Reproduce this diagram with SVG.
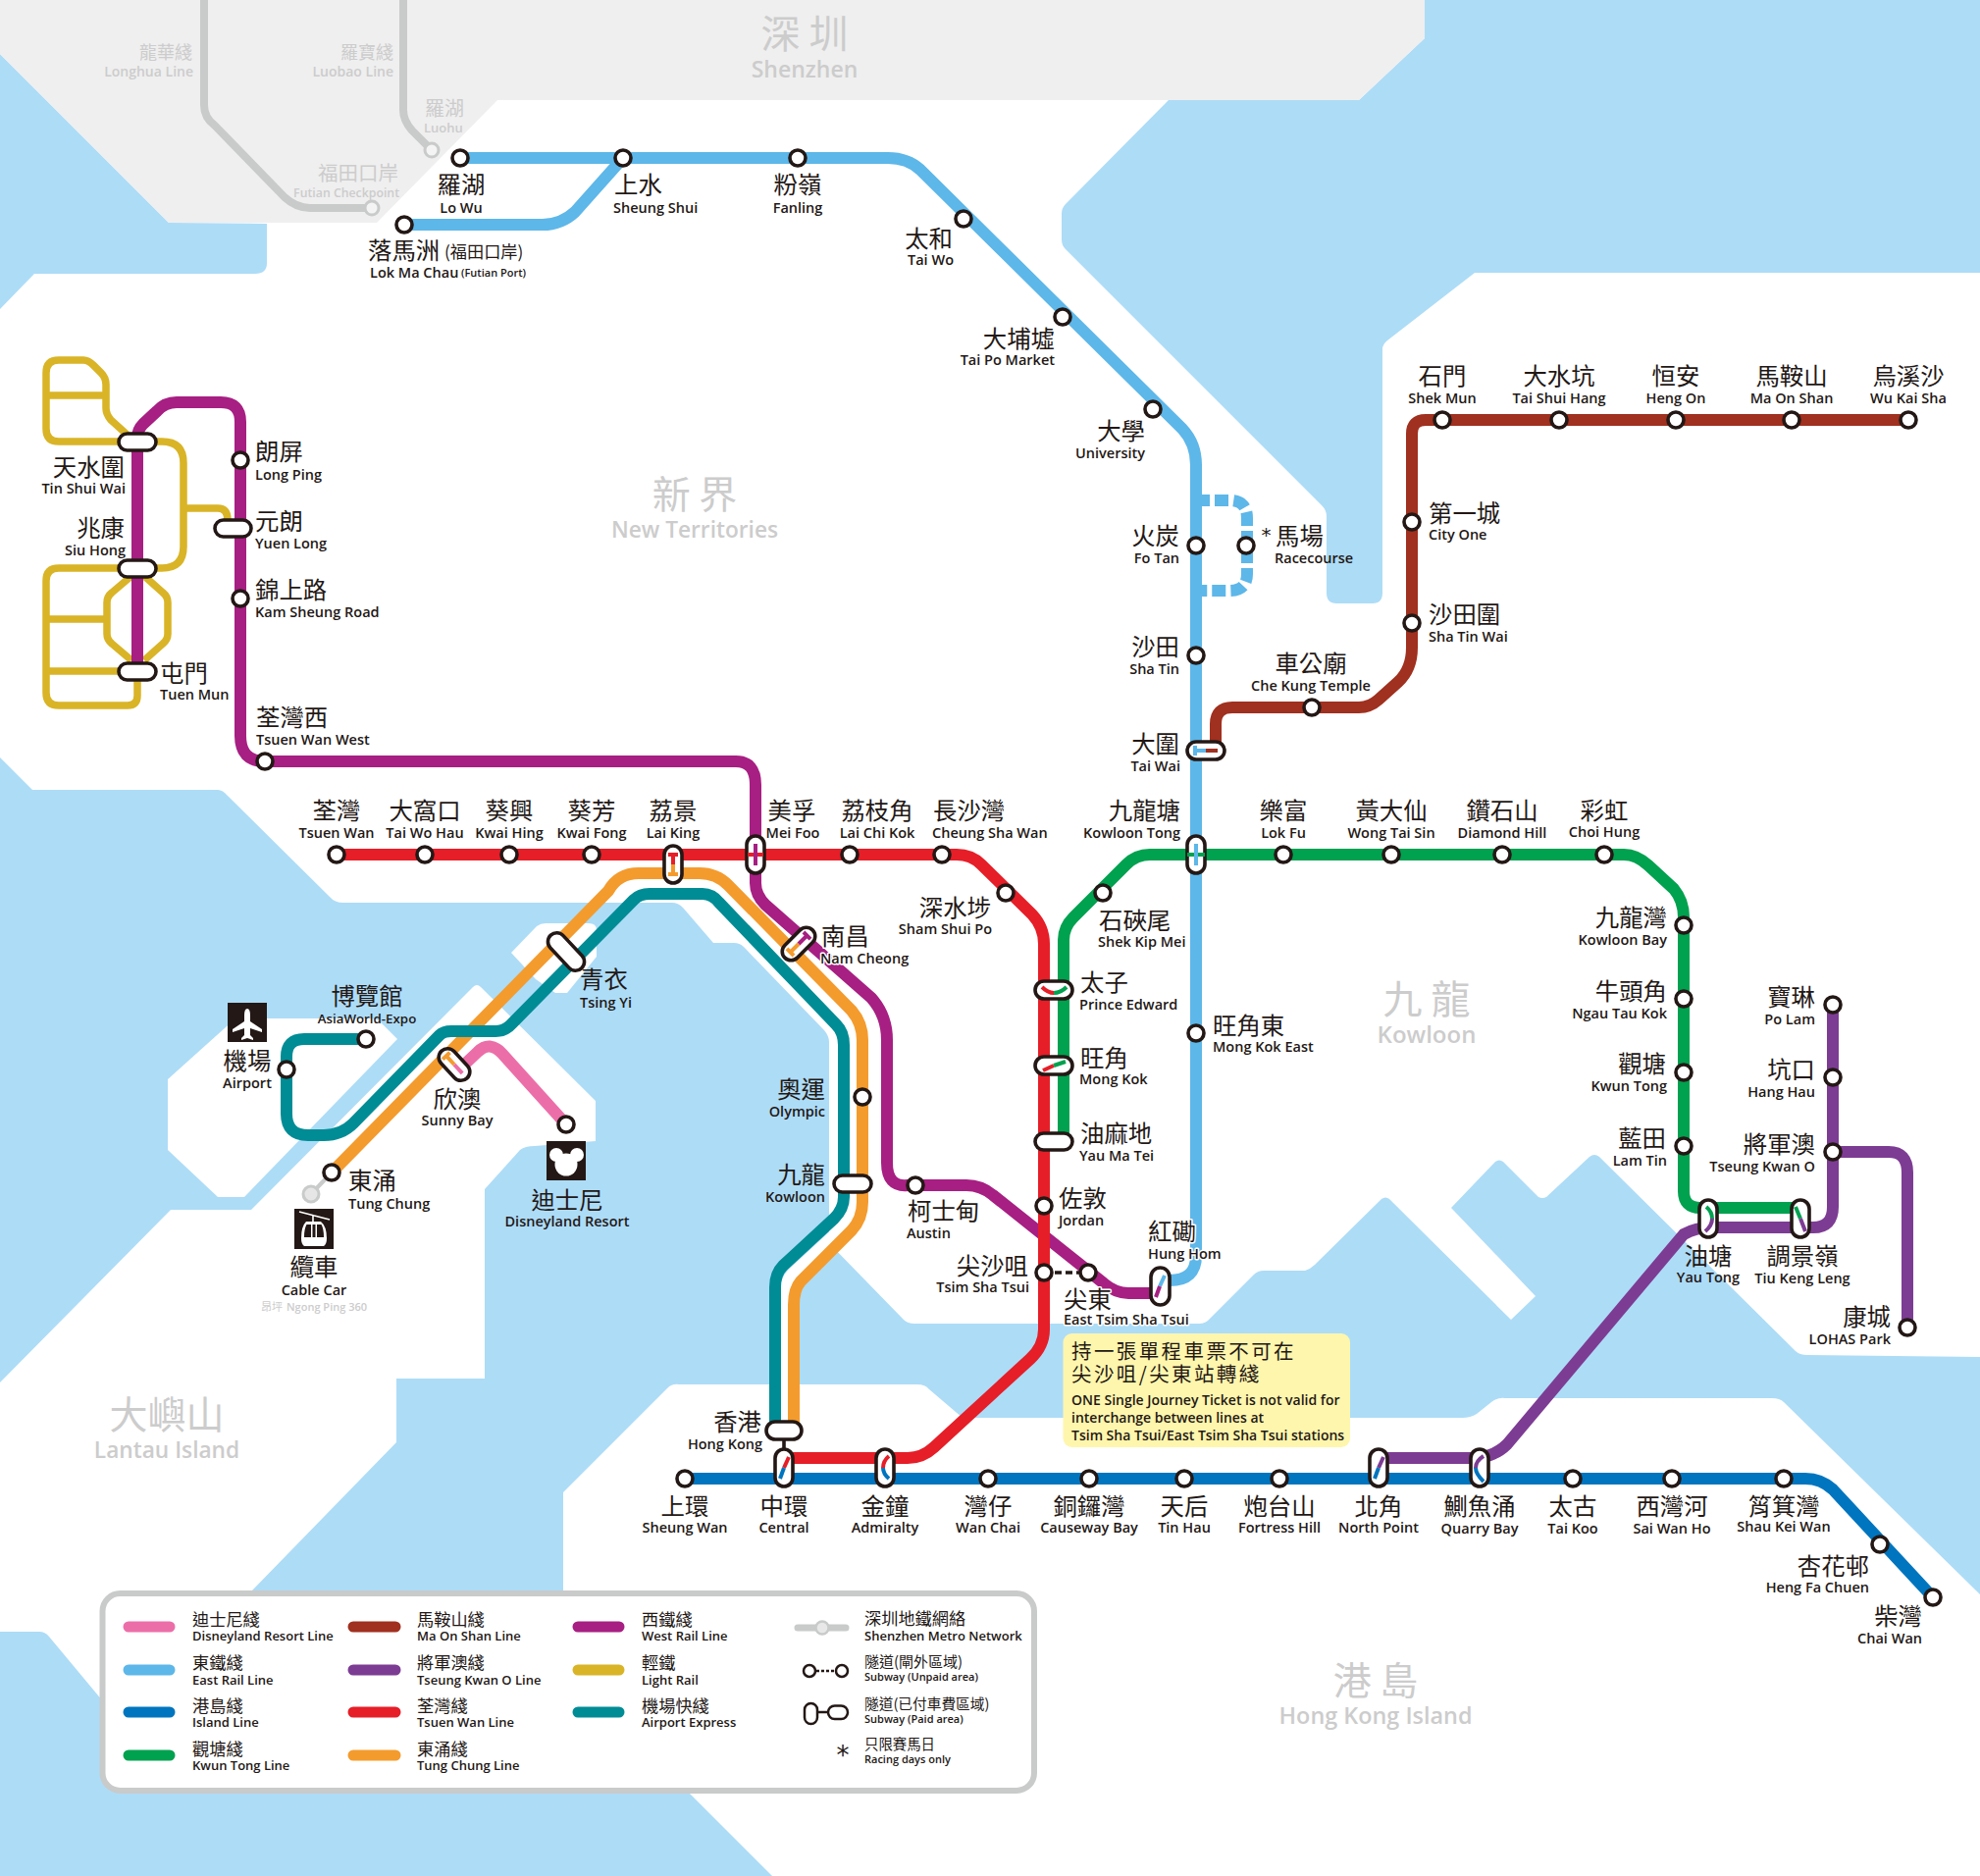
<svg xmlns="http://www.w3.org/2000/svg" width="2018" height="1912" viewBox="0 0 2018 1912">
<style>
text{font-family:"Open Sans","Noto Sans","Noto Sans CJK TC",sans-serif;fill:#231815}
.c{font-family:"Noto Sans CJK TC","Noto Sans CJK SC",sans-serif;font-size:24.4px;transform:translateY(.8px)}
.e{font-size:14.5px;font-weight:600}
.m{text-anchor:middle}.r{text-anchor:end}
.l{fill:none;stroke-width:12;stroke-linecap:butt;stroke-linejoin:round}
.s{fill:#fff;stroke:#231815;stroke-width:3.6}
.p{fill:#fff;stroke:#231815;stroke-width:3.6}
.i{fill:none;stroke-width:4}
.sea{fill:#ADDCF7}.land{fill:#fff}
.gc{font-family:"Noto Sans CJK TC",sans-serif;fill:#CCCCCC}
.ge{fill:#CCCCCC;font-weight:600}
.h{paint-order:stroke;stroke:#fff;stroke-width:3px;stroke-linejoin:round}
.k{font-family:"Noto Sans CJK TC",sans-serif;font-size:17.2px}
.f{font-size:13px;font-weight:600}
.a{font-family:"DejaVu Sans",sans-serif;text-anchor:middle}
.sw{stroke-width:11;stroke-linecap:round;fill:none}
.ew{stroke:#5DB7E9}.tw{stroke:#E61E28}.kt{stroke:#00A14F}.is{stroke:#0075BF}.tc{stroke:#F49B2D}.ae{stroke:#008C95}.wr{stroke:#A71F82}.ma{stroke:#A0301F}.tk{stroke:#7D3C93}.dr{stroke:#EC6EA9}.lr{stroke:#D9B426}
</style>
<rect width="2018" height="1912" fill="#fff"/>
<g id="geography">
<path class="sea" d="M0,55L172,227L272,228V268Q272,279 260,279H35L0,315Z"/>
<path class="sea" d="M1191,102L1086,208Q1082,212 1082,218V244Q1082,250 1086,254L1347,515Q1352,520 1352,526V604Q1352,615 1362,615H1399Q1409,615 1409,604V356Q1409,351 1414,347L1503,278H2018V0H1452V39L1385,102Z"/>
<path class="sea" d="M0,772L33,805H222Q227,805 232,811L336,914Q341,920 350,920H685Q691,920 696,925L727,961H748Q754,961 758,965L840,1050Q845,1056 845,1062V1267L921,1345Q925,1349 932,1349H1222Q1229,1349 1233,1344L1278,1299Q1282,1295 1288,1295H1330Q1336,1293 1340,1289L1408,1222Q1412,1219 1416,1222L1540,1345L1565,1321L1479,1231L1524,1184Q1528,1181 1532,1184L1568,1220Q1572,1222 1576,1220L1620,1179Q1625,1175 1630,1179L1830,1377Q1834,1381 1842,1381L2018,1383V1625L1818,1429Q1814,1425 1806,1425H1534Q1526,1424 1520,1429L1505,1441Q1499,1445 1490,1445H981L947,1416Q943,1411 935,1411H692Q685,1410 680,1415L574,1521V1640L702,1827L787,1912H0V1663H40Q46,1663 50,1668L110,1740L256,1622L404,1470V1405H494V1212L530,1172Q535,1168 545,1168L607,1163V1122L490,1006Q486,1002 482,1006L256,1233H174L0,1409Z"/>
<path class="land" d="M405,1059L388,1042Q384,1038 378,1038H240L171,1100V1172L222,1220H249Z"/>
<path class="land" d="M521,971L547,944Q551,941 556,941H600Q608,941 608,948V975L578,1012H566L546,998Z"/>
<path d="M0,0H1452V39L1385,102H507L384,227H172L0,55Z" fill="#EFEFEF"/>
<path d="M208,0V107Q208,120 219,128L290,201Q302,212 316,212H379" fill="none" stroke="#C9CACA" stroke-width="8"/>
<path d="M411,0V112Q411,123 420,133L440,153" fill="none" stroke="#C9CACA" stroke-width="8"/>
<circle cx="440" cy="153" r="7" fill="#f4f4f4" stroke="#C9CACA" stroke-width="3"/>
<circle cx="379" cy="212" r="7" fill="#f4f4f4" stroke="#C9CACA" stroke-width="3"/>
<text class="gc r" x="196" y="60" font-size="18">龍華綫</text><text class="ge r" x="197" y="78" font-size="14">Longhua Line</text>
<text class="gc r" x="401" y="60" font-size="18">羅寶綫</text><text class="ge r" x="401" y="78" font-size="14">Luobao Line</text>
<text class="gc" x="433" y="118" font-size="20">羅湖</text><text class="ge" x="432" y="135" font-size="13">Luohu</text>
<text class="gc r" x="406" y="184" font-size="20.5">福田口岸</text><text class="ge r" x="407" y="201" font-size="12.3">Futian Checkpoint</text>
<text class="gc m" x="820" y="49" font-size="40">深 圳</text><text class="ge m" x="820" y="79" font-size="23">Shenzhen</text>
<text class="gc m" x="708" y="518" font-size="39">新 界</text><text class="ge m" x="708" y="548" font-size="22.7">New Territories</text>
<text class="gc m" x="1454" y="1033" font-size="40">九 龍</text><text class="ge m" x="1454" y="1063" font-size="24">Kowloon</text>
<text class="gc m" x="170" y="1456" font-size="39">大嶼山</text><text class="ge m" x="170" y="1486" font-size="22.7">Lantau Island</text>
<text class="gc m" x="1402" y="1727" font-size="39">港 島</text><text class="ge m" x="1402" y="1757" font-size="23.4">Hong Kong Island</text>
</g>
<g id="connectors">
<g class="l lr" style="stroke-width:7.5">
<path d="M140,450H60Q47,450 47,437V380Q47,367 60,367H85Q90,367 95,372L103,380Q108,385 108,392V416Q108,422 113,428L134,447"/>
<path d="M47,403H108"/>
<path d="M140,450H165Q187,450 187,472V557Q187,579 165,579H140"/>
<path d="M187,518H222Q232,518 232,530V538"/>
<path d="M140,579H60Q47,579 47,592V706Q47,719 60,719H130Q140,719 140,709V684"/>
<path d="M47,631H108M47,684H140"/>
<path d="M134,587L114,604Q109,608 109,614V646Q109,652 114,656L134,673"/>
<path d="M147,587L166,604Q171,608 171,614V646Q171,652 166,656L147,673"/>
</g>
<path class="l wr" d="M140,684V446Q140,438 146,432L160,419Q168,410 180,410H225Q245,410 245,430V750Q245,776 270,776H750Q770,776 770,800V900Q770,912 780,922L888,1017Q904,1035 904,1060V1185Q904,1210 925,1208H985Q1000,1208 1012,1218L1125,1308Q1137,1318 1150,1318H1182"/>
<path class="l dr" d="M470,1088L487,1072Q499,1060 512,1074L577,1146"/>
<path class="l" stroke="#fff" d="M655,900H716Q726,900 735,910L860,1038Q870,1050 870,1065V1225Q870,1240 860,1250L808,1298Q800,1306 800,1320V1458"/>
<path class="l tc" d="M338,1195L620,908Q630,890 651,890H713Q730,890 742,902L868,1030Q879,1043 879,1060V1225Q879,1242 868,1254L816,1306Q809,1314 809,1330V1458"/>
<path class="l ae" d="M373,1059H310Q292,1059 292,1077V1135Q292,1157 314,1157H330Q348,1157 360,1145L448,1055Q452,1051 460,1051H505Q515,1051 522,1043L646,917Q652,911 662,911H716Q726,911 733,920L852,1044Q860,1052 860,1065V1220Q860,1232 850,1242L798,1290Q790,1298 790,1312V1458"/>
<path class="l ew" d="M469,161H905Q925,161 938,173L1205,437Q1219,452 1219,474V1280Q1219,1305 1192,1305H1182"/>
<path class="l ew" d="M412,229H553Q572,229 586,216L635,161"/>
<path class="l ew" d="M1219,510H1253Q1271,510 1271,528V585Q1271,602 1253,602H1219" stroke-dasharray="14 5"/>
<path class="l ma" d="M1239,765V738Q1239,721 1256,721H1385Q1396,721 1405,713L1425,695Q1439,682 1439,660V442Q1439,428 1453,428H1945"/>
<path class="l kt" d="M1084,1164V958Q1084,945 1094,935L1148,881Q1158,871 1172,871H1655Q1668,871 1680,882L1706,906Q1716,918 1716,935V1214Q1716,1231 1733,1231H1835"/>
<path class="l tk" d="M1868,1024V1230Q1868,1251 1848,1251H1745Q1728,1251 1716,1258L1536,1472Q1522,1486 1500,1486H1405"/>
<path class="l tk" d="M1868,1174H1925Q1944,1174 1944,1195V1353"/>
<path class="l is" d="M698,1507H1840Q1856,1507 1868,1518L1970,1628"/>
<path class="l tw" d="M343,871H975Q990,871 1000,881L1052,932Q1064,945 1064,962V1355Q1064,1372 1050,1385L952,1475Q940,1486 925,1486H799"/>
<path d="M338,1195L317,1217" stroke="#C9CACA" stroke-width="4"/>
<path d="M799,1467V1480" stroke="#231815" stroke-width="3.6"/>
<path d="M1064,1297H1109" stroke="#231815" stroke-width="3.6" stroke-dasharray="7 4"/>
</g>
<g id="nodes">
<g id="lo-wu"><circle class="s" cx="469" cy="161" r="8"/><text class="c m" x="470" y="196">羅湖</text><text class="e m" x="470" y="217">Lo Wu</text></g>
<g id="lok-ma-chau"><circle class="s" cx="412" cy="229" r="8"/><text class="c" x="375" y="263">落馬洲</text><text class="k" x="453" y="263">(福田口岸)</text><text class="e" x="377" y="283">Lok Ma Chau</text><text class="f" x="470" y="282" style="font-size:11px">(Futian Port)</text></g>
<g id="sheung-shui"><circle class="s" cx="635" cy="161" r="8"/><text class="c" x="626" y="196">上水</text><text class="e" x="625" y="217">Sheung Shui</text></g>
<g id="fanling"><circle class="s" cx="813" cy="161" r="8"/><text class="c m" x="813" y="196">粉嶺</text><text class="e m" x="813" y="217">Fanling</text></g>
<g id="tai-wo"><circle class="s" cx="982" cy="223" r="8"/><text class="c r" x="971" y="251">太和</text><text class="e r" x="972" y="270">Tai Wo</text></g>
<g id="tai-po-market"><circle class="s" cx="1083" cy="323" r="8"/><text class="c r" x="1075" y="353">大埔墟</text><text class="e r" x="1075" y="372">Tai Po Market</text></g>
<g id="university"><circle class="s" cx="1175" cy="417" r="8"/><text class="c r" x="1167" y="447">大學</text><text class="e r" x="1167" y="467">University</text></g>
<g id="fo-tan"><circle class="s" cx="1219" cy="556" r="8"/><text class="c r" x="1202" y="554">火炭</text><text class="e r" x="1202" y="574">Fo Tan</text></g>
<g id="racecourse"><circle class="s" cx="1270" cy="556" r="8"/><text class="a" x="1290.6" y="552" font-size="20">*</text><text class="c" x="1300" y="554">馬場</text><text class="e" x="1299" y="574">Racecourse</text></g>
<g id="sha-tin"><circle class="s" cx="1219" cy="668" r="8"/><text class="c r" x="1202" y="667">沙田</text><text class="e r" x="1202" y="687">Sha Tin</text></g>
<g id="tai-wai"><rect class="p" x="1210" y="756" width="38" height="18" rx="9"/><path class="i ew" d="M1218,760V770M1218,765H1229"/><path class="i ma" d="M1229,765H1241"/><text class="c r" x="1202" y="766">大圍</text><text class="e r" x="1203" y="786">Tai Wai</text></g>
<g id="che-kung-temple"><circle class="s" cx="1337" cy="721" r="8"/><text class="c m" x="1336" y="684">車公廟</text><text class="e m" x="1336" y="704">Che Kung Temple</text></g>
<g id="sha-tin-wai"><circle class="s" cx="1439" cy="635" r="8"/><text class="c" x="1456" y="634">沙田圍</text><text class="e" x="1456" y="654">Sha Tin Wai</text></g>
<g id="city-one"><circle class="s" cx="1439" cy="532" r="8"/><text class="c" x="1456" y="531">第一城</text><text class="e" x="1456" y="550">City One</text></g>
<g id="shek-mun"><circle class="s" cx="1470" cy="428" r="8"/><text class="c m" x="1470" y="391">石門</text><text class="e m" x="1470" y="411">Shek Mun</text></g>
<g id="tai-shui-hang"><circle class="s" cx="1589" cy="428" r="8"/><text class="c m" x="1589" y="391">大水坑</text><text class="e m" x="1589" y="411">Tai Shui Hang</text></g>
<g id="heng-on"><circle class="s" cx="1708" cy="428" r="8"/><text class="c m" x="1708" y="391">恒安</text><text class="e m" x="1708" y="411">Heng On</text></g>
<g id="ma-on-shan"><circle class="s" cx="1826" cy="428" r="8"/><text class="c m" x="1826" y="391">馬鞍山</text><text class="e m" x="1826" y="411">Ma On Shan</text></g>
<g id="wu-kai-sha"><circle class="s" cx="1945" cy="428" r="8"/><text class="c m" x="1945" y="391">烏溪沙</text><text class="e m" x="1945" y="411">Wu Kai Sha</text></g>
<g id="tin-shui-wai"><rect class="p" x="121" y="442" width="38" height="17" rx="8.5"/><text class="c r" x="127" y="484">天水圍</text><text class="e r" x="128" y="503">Tin Shui Wai</text></g>
<g id="siu-hong"><rect class="p" x="121" y="571" width="38" height="17" rx="8.5"/><text class="c r" x="127" y="546">兆康</text><text class="e r" x="128" y="566">Siu Hong</text></g>
<g id="tuen-mun"><rect class="p" x="121" y="676" width="38" height="17" rx="8.5"/><text class="c" x="163" y="694">屯門</text><text class="e" x="163" y="713">Tuen Mun</text></g>
<g id="long-ping"><circle class="s" cx="245" cy="469" r="8"/><text class="c" x="260" y="468">朗屏</text><text class="e" x="260" y="489">Long Ping</text></g>
<g id="yuen-long"><rect class="p" x="219" y="530" width="37" height="17" rx="8.5"/><text class="c" x="260" y="539">元朗</text><text class="e" x="260" y="559">Yuen Long</text></g>
<g id="kam-sheung-road"><circle class="s" cx="245" cy="610" r="8"/><text class="c" x="260" y="609">錦上路</text><text class="e" x="260" y="629">Kam Sheung Road</text></g>
<g id="tsuen-wan-west"><circle class="s" cx="270" cy="776" r="8"/><text class="c" x="261" y="739">荃灣西</text><text class="e" x="261" y="759">Tsuen Wan West</text></g>
<g id="tsuen-wan"><circle class="s" cx="343" cy="871" r="8"/><text class="c m" x="343" y="834">荃灣</text><text class="e m" x="343" y="854">Tsuen Wan</text></g>
<g id="tai-wo-hau"><circle class="s" cx="433" cy="871" r="8"/><text class="c m" x="433" y="834">大窩口</text><text class="e m" x="433" y="854">Tai Wo Hau</text></g>
<g id="kwai-hing"><circle class="s" cx="519" cy="871" r="8"/><text class="c m" x="519" y="834">葵興</text><text class="e m" x="519" y="854">Kwai Hing</text></g>
<g id="kwai-fong"><circle class="s" cx="603" cy="871" r="8"/><text class="c m" x="603" y="834">葵芳</text><text class="e m" x="603" y="854">Kwai Fong</text></g>
<g id="lai-king"><rect class="p" x="677" y="862" width="18" height="38" rx="9"/><path class="i tw" d="M681,871H691M686,871V881"/><path class="i tc" d="M686,881V891M681,891H691"/><text class="c m" x="686" y="834">荔景</text><text class="e m" x="686" y="854">Lai King</text></g>
<g id="mei-foo"><rect class="p" x="761" y="852" width="18" height="38" rx="9"/><path class="i tw" d="M762,871H778"/><path class="i wr" d="M770,860V882"/><text class="c m" x="807" y="834">美孚</text><text class="e m" x="808" y="854">Mei Foo</text></g>
<g id="lai-chi-kok"><circle class="s" cx="866" cy="871" r="8"/><text class="c m" x="894" y="834">荔枝角</text><text class="e m" x="894" y="854">Lai Chi Kok</text></g>
<g id="cheung-sha-wan"><circle class="s" cx="960" cy="871" r="8"/><text class="c" x="951" y="834">長沙灣</text><text class="e" x="950" y="854">Cheung Sha Wan</text></g>
<g id="sham-shui-po"><circle class="s" cx="1025" cy="910" r="8"/><text class="c r" x="1010" y="933">深水埗</text><text class="e r" x="1011" y="952">Sham Shui Po</text></g>
<g id="prince-edward"><rect class="p" x="1055" y="1000" width="38" height="18" rx="9"/><path class="i tw" d="M1062,1006Q1068,1012 1074,1012"/><path class="i kt" d="M1074,1012Q1081,1012 1087,1006"/><text class="c" x="1101" y="1009">太子</text><text class="e" x="1100" y="1029">Prince Edward</text></g>
<g id="mong-kok"><rect class="p" x="1055" y="1077" width="38" height="18" rx="9"/><path class="i tw" d="M1063,1091L1074,1086"/><path class="i kt" d="M1074,1086L1086,1082"/><text class="c" x="1101" y="1086">旺角</text><text class="e" x="1100" y="1105">Mong Kok</text></g>
<g id="yau-ma-tei"><rect class="p" x="1055" y="1155" width="38" height="17" rx="8.5"/><text class="c" x="1101" y="1163">油麻地</text><text class="e" x="1100" y="1183">Yau Ma Tei</text></g>
<g id="jordan"><circle class="s" cx="1064" cy="1229" r="8"/><text class="c" x="1079" y="1229">佐敦</text><text class="e" x="1079" y="1249">Jordan</text></g>
<g id="tsim-sha-tsui"><circle class="s" cx="1064" cy="1297" r="8"/><text class="c r" x="1048" y="1298">尖沙咀</text><text class="e r" x="1049" y="1317">Tsim Sha Tsui</text></g>
<g id="east-tsim-sha-tsui"><circle class="s" cx="1109" cy="1297" r="8"/><text class="c h" x="1084" y="1332">尖東</text><text class="e h" x="1084" y="1350">East Tsim Sha Tsui</text></g>
<g id="hung-hom"><rect class="p" x="1173" y="1292" width="19" height="38" rx="9.5"/><path class="i ew" d="M1187,1300L1182,1311"/><path class="i wr" d="M1182,1311L1178,1322"/><text class="c h" x="1170" y="1263">紅磡</text><text class="e h" x="1170" y="1283">Hung Hom</text></g>
<g id="austin"><circle class="s" cx="933" cy="1208" r="8"/><text class="c" x="925" y="1242">柯士甸</text><text class="e" x="924" y="1262">Austin</text></g>
<g id="nam-cheong"><g transform="translate(814,962) rotate(-45)"><rect class="p" x="-20" y="-9" width="40" height="18" rx="9"/><path class="i tc" d="M-12,-5V5M-12,0H0"/><path class="i wr" d="M0,0H12M12,-5V5"/></g><text class="c h" x="837" y="962">南昌</text><text class="e h" x="836" y="982">Nam Cheong</text></g>
<g id="olympic"><circle class="s" cx="879" cy="1118" r="8"/><text class="c r" x="841" y="1118">奧運</text><text class="e r" x="841" y="1138">Olympic</text></g>
<g id="kowloon"><rect class="p" x="850" y="1198" width="38" height="17" rx="8.5"/><text class="c r" x="841" y="1205">九龍</text><text class="e r" x="841" y="1225">Kowloon</text></g>
<g id="tsing-yi"><rect class="p" x="-23" y="-9" width="46" height="18" rx="9" transform="translate(577,970) rotate(47)"/><text class="c" x="591" y="1006">青衣</text><text class="e" x="591" y="1027">Tsing Yi</text></g>
<g id="sunny-bay"><g transform="translate(463,1085) rotate(47)"><rect class="p" x="-19" y="-9" width="38" height="18" rx="9"/><path class="i tc" d="M-12,-5V5M-12,0H0"/><path class="i dr" d="M0,0H12"/></g><text class="c m" x="466" y="1128">欣澳</text><text class="e m" x="466" y="1147">Sunny Bay</text></g>
<g id="tung-chung"><circle class="s" cx="338" cy="1195" r="8"/><text class="c" x="355" y="1211">東涌</text><text class="e" x="355" y="1232">Tung Chung</text></g>
<g id="asiaworld-expo"><circle class="s" cx="373" cy="1059" r="8"/><text class="c m" x="374" y="1023">博覽館</text><text class="e m" x="374" y="1043" style="font-size:13.3px">AsiaWorld-Expo</text></g>
<g id="airport"><rect x="232" y="1022" width="40" height="40" fill="#231815"/><path fill="#fff" d="M252,1028Q255,1028 255,1035V1041L267,1049V1052L255,1048V1055L258,1058V1060L252,1058L246,1060V1058L249,1055V1048L237,1052V1049L249,1041V1035Q249,1028 252,1028Z"/><circle class="s" cx="292" cy="1090" r="8"/><text class="c m" x="252" y="1089">機場</text><text class="e m" x="252" y="1109">Airport</text></g>
<g id="disneyland-resort"><circle class="s" cx="577" cy="1146" r="8"/><rect x="557" y="1163" width="40" height="40" fill="#231815"/><g fill="#fff"><circle cx="567" cy="1177" r="7"/><circle cx="588" cy="1177" r="7"/><circle cx="577" cy="1187" r="11.5"/></g><text class="c m" x="578" y="1231">迪士尼</text><text class="e m" x="578" y="1250">Disneyland Resort</text></g>
<g id="cable-car"><circle cx="317" cy="1217" r="8" fill="#e6e6e6" stroke="#C9CACA" stroke-width="3"/><rect x="300" y="1232" width="40" height="41" fill="#231815"/><path d="M305,1235L336,1243M319,1238V1246" stroke="#fff" stroke-width="1.6"/><path fill="#fff" d="M312,1245H327Q333,1250 333,1262Q333,1268 330,1270H310Q307,1268 307,1262Q307,1250 312,1245Z"/><path fill="#231815" d="M312.5,1248H317V1261H310Q310,1252 312.5,1248ZM318.5,1248H321.5V1261H318.5ZM323,1248H327.5Q330,1252 330,1261H323Z"/><text class="c m" x="320" y="1299">纜車</text><text class="e m" x="320" y="1320">Cable Car</text><text class="gc" x="266" y="1336" font-size="11">昂坪</text><text class="ge" x="292" y="1336" font-size="11">Ngong Ping 360</text></g>
<g id="shek-kip-mei"><circle class="s" cx="1124" cy="910" r="8"/><text class="c" x="1120" y="946">石硤尾</text><text class="e" x="1119" y="965">Shek Kip Mei</text></g>
<g id="kowloon-tong"><rect class="p" x="1210" y="852" width="18" height="38" rx="9"/><path class="i kt" d="M1210,871H1228"/><path class="i ew" d="M1219,860V882"/><text class="c r" x="1203" y="834">九龍塘</text><text class="e r" x="1203" y="854">Kowloon Tong</text></g>
<g id="mong-kok-east"><circle class="s" cx="1219" cy="1053" r="8"/><text class="c" x="1236" y="1053">旺角東</text><text class="e" x="1236" y="1072">Mong Kok East</text></g>
<g id="lok-fu"><circle class="s" cx="1308" cy="871" r="8"/><text class="c m" x="1308" y="834">樂富</text><text class="e m" x="1308" y="854">Lok Fu</text></g>
<g id="wong-tai-sin"><circle class="s" cx="1418" cy="871" r="8"/><text class="c m" x="1418" y="834">黃大仙</text><text class="e m" x="1418" y="854">Wong Tai Sin</text></g>
<g id="diamond-hill"><circle class="s" cx="1531" cy="871" r="8"/><text class="c m" x="1531" y="834">鑽石山</text><text class="e m" x="1531" y="854">Diamond Hill</text></g>
<g id="choi-hung"><circle class="s" cx="1635" cy="871" r="8"/><text class="c m" x="1635" y="834">彩虹</text><text class="e m" x="1635" y="853">Choi Hung</text></g>
<g id="kowloon-bay"><circle class="s" cx="1716" cy="943" r="8"/><text class="c r" x="1699" y="943">九龍灣</text><text class="e r" x="1699" y="963">Kowloon Bay</text></g>
<g id="ngau-tau-kok"><circle class="s" cx="1716" cy="1018" r="8"/><text class="c r" x="1699" y="1018">牛頭角</text><text class="e r" x="1699" y="1038">Ngau Tau Kok</text></g>
<g id="kwun-tong"><circle class="s" cx="1716" cy="1093" r="8"/><text class="c r" x="1698" y="1092">觀塘</text><text class="e r" x="1699" y="1112">Kwun Tong</text></g>
<g id="lam-tin"><circle class="s" cx="1716" cy="1168" r="8"/><text class="c r" x="1698" y="1168">藍田</text><text class="e r" x="1699" y="1188">Lam Tin</text></g>
<g id="yau-tong"><rect class="p" x="1732" y="1223" width="18" height="38" rx="9"/><path class="i kt" d="M1739,1230Q1745,1235 1745,1242"/><path class="i tk" d="M1745,1242Q1745,1249 1738,1255"/><text class="c m" x="1741" y="1288">油塘</text><text class="e m" x="1741" y="1307">Yau Tong</text></g>
<g id="tiu-keng-leng"><rect class="p" x="1826" y="1223" width="18" height="38" rx="9"/><path class="i kt" d="M1830,1230L1835,1242"/><path class="i tk" d="M1835,1242L1840,1255"/><text class="c m" x="1837" y="1288">調景嶺</text><text class="e m" x="1837" y="1308">Tiu Keng Leng</text></g>
<g id="po-lam"><circle class="s" cx="1868" cy="1024" r="8"/><text class="c r" x="1850" y="1024">寶琳</text><text class="e r" x="1850" y="1044">Po Lam</text></g>
<g id="hang-hau"><circle class="s" cx="1868" cy="1098" r="8"/><text class="c r" x="1850" y="1098">坑口</text><text class="e r" x="1850" y="1118">Hang Hau</text></g>
<g id="tseung-kwan-o"><circle class="s" cx="1868" cy="1174" r="8"/><text class="c r" x="1850" y="1174">將軍澳</text><text class="e r" x="1850" y="1194">Tseung Kwan O</text></g>
<g id="lohas-park"><circle class="s" cx="1944" cy="1353" r="8"/><text class="c r" x="1927" y="1350">康城</text><text class="e r" x="1927" y="1370">LOHAS Park</text></g>
<g id="hong-kong"><rect class="p" x="781" y="1449" width="36" height="18" rx="9"/><text class="c r" x="776" y="1457">香港</text><text class="e r" x="777" y="1477">Hong Kong</text></g>
<g id="sheung-wan"><circle class="s" cx="698" cy="1507" r="8"/><text class="c m" x="698" y="1543">上環</text><text class="e m" x="698" y="1562">Sheung Wan</text></g>
<g id="central"><rect class="p" x="790" y="1477" width="18" height="38" rx="9"/><path class="i tw" d="M804,1485L799,1496"/><path class="i is" d="M799,1496L795,1507"/><text class="c m" x="799" y="1543">中環</text><text class="e m" x="799" y="1562">Central</text></g>
<g id="admiralty"><rect class="p" x="893" y="1477" width="18" height="38" rx="9"/><path class="i tw" d="M906,1484Q900,1489 900,1496"/><path class="i is" d="M900,1496Q900,1502 906,1507"/><text class="c m" x="902" y="1543">金鐘</text><text class="e m" x="902" y="1562">Admiralty</text></g>
<g id="wan-chai"><circle class="s" cx="1007" cy="1507" r="8"/><text class="c m" x="1007" y="1543">灣仔</text><text class="e m" x="1007" y="1562">Wan Chai</text></g>
<g id="causeway-bay"><circle class="s" cx="1110" cy="1507" r="8"/><text class="c m" x="1110" y="1543">銅鑼灣</text><text class="e m" x="1110" y="1562">Causeway Bay</text></g>
<g id="tin-hau"><circle class="s" cx="1207" cy="1507" r="8"/><text class="c m" x="1207" y="1543">天后</text><text class="e m" x="1207" y="1562">Tin Hau</text></g>
<g id="fortress-hill"><circle class="s" cx="1304" cy="1507" r="8"/><text class="c m" x="1304" y="1543">炮台山</text><text class="e m" x="1304" y="1562">Fortress Hill</text></g>
<g id="north-point"><rect class="p" x="1396" y="1477" width="18" height="38" rx="9"/><path class="i tk" d="M1410,1485L1405,1496"/><path class="i is" d="M1405,1496L1401,1507"/><text class="c m" x="1405" y="1543">北角</text><text class="e m" x="1405" y="1562">North Point</text></g>
<g id="quarry-bay"><rect class="p" x="1499" y="1477" width="18" height="38" rx="9"/><path class="i tk" d="M1512,1484Q1504,1489 1504,1496"/><path class="i is" d="M1504,1496Q1504,1502 1512,1510"/><text class="c m" x="1508" y="1543">鰂魚涌</text><text class="e m" x="1508" y="1563">Quarry Bay</text></g>
<g id="tai-koo"><circle class="s" cx="1603" cy="1507" r="8"/><text class="c m" x="1603" y="1543">太古</text><text class="e m" x="1603" y="1563">Tai Koo</text></g>
<g id="sai-wan-ho"><circle class="s" cx="1704" cy="1507" r="8"/><text class="c m" x="1704" y="1543">西灣河</text><text class="e m" x="1704" y="1563">Sai Wan Ho</text></g>
<g id="shau-kei-wan"><circle class="s" cx="1818" cy="1507" r="8"/><text class="c m" x="1818" y="1543">筲箕灣</text><text class="e m" x="1818" y="1561">Shau Kei Wan</text></g>
<g id="heng-fa-chuen"><circle class="s" cx="1916" cy="1574" r="8"/><text class="c r" x="1905" y="1604">杏花邨</text><text class="e r" x="1905" y="1623">Heng Fa Chuen</text></g>
<g id="chai-wan"><circle class="s" cx="1970" cy="1628" r="8"/><text class="c r" x="1959" y="1655">柴灣</text><text class="e r" x="1959" y="1675">Chai Wan</text></g>
</g>
<g id="note"><rect x="1083.5" y="1359" width="292.5" height="116" rx="9" fill="#FFF6AD"/>
<text class="c" x="1092" y="1384" style="font-size:20.5px;letter-spacing:2.4px">持一張單程車票不可在</text>
<text class="c" x="1092" y="1407" style="font-size:20.5px;letter-spacing:2.4px">尖沙咀/尖東站轉綫</text>
<text class="e" x="1092" y="1432" style="font-size:14px">ONE Single Journey Ticket is not valid for</text>
<text class="e" x="1092" y="1450" style="font-size:14px">interchange between lines at</text>
<text class="e" x="1092" y="1467.5" style="font-size:14px">Tsim Sha Tsui/East Tsim Sha Tsui stations</text>
</g>
<g id="legend"><rect x="104.5" y="1624" width="949.5" height="201" rx="18" fill="#fff" stroke="#C9CACA" stroke-width="6"/>
<path class="sw dr" d="M131,1658H173"/><path class="sw ew" d="M131,1702H173"/><path class="sw is" d="M131,1745H173"/><path class="sw kt" d="M131,1789H173"/>
<path class="sw ma" d="M360,1658H403"/><path class="sw tk" d="M360,1702H403"/><path class="sw tw" d="M360,1745H403"/><path class="sw tc" d="M360,1789H403"/>
<path class="sw wr" d="M589,1658H631"/><path class="sw lr" d="M589,1702H631"/><path class="sw ae" d="M589,1745H631"/>
<text class="k" x="196" y="1657">迪士尼綫</text><text class="f" x="196" y="1672">Disneyland Resort Line</text>
<text class="k" x="196" y="1701">東鐵綫</text><text class="f" x="196" y="1717">East Rail Line</text>
<text class="k" x="196" y="1745">港島綫</text><text class="f" x="196" y="1760">Island Line</text>
<text class="k" x="196" y="1789">觀塘綫</text><text class="f" x="196" y="1804">Kwun Tong Line</text>
<text class="k" x="425" y="1657">馬鞍山綫</text><text class="f" x="425" y="1672">Ma On Shan Line</text>
<text class="k" x="425" y="1701">將軍澳綫</text><text class="f" x="425" y="1717">Tseung Kwan O Line</text>
<text class="k" x="425" y="1745">荃灣綫</text><text class="f" x="425" y="1760">Tsuen Wan Line</text>
<text class="k" x="425" y="1789">東涌綫</text><text class="f" x="425" y="1804">Tung Chung Line</text>
<text class="k" x="654" y="1657">西鐵綫</text><text class="f" x="654" y="1672">West Rail Line</text>
<text class="k" x="654" y="1701">輕鐵</text><text class="f" x="654" y="1717">Light Rail</text>
<text class="k" x="654" y="1745">機場快綫</text><text class="f" x="654" y="1760">Airport Express</text>
<path d="M813,1659H862" stroke="#C9CACA" stroke-width="7" stroke-linecap="round"/><circle cx="838" cy="1659" r="6.5" fill="#e8e8e8" stroke="#C9CACA" stroke-width="2.5"/>
<text class="k" x="881" y="1656">深圳地鐵網絡</text><text class="f" x="881" y="1672">Shenzhen Metro Network</text>
<path d="M832,1703H851" stroke="#231815" stroke-width="2.5" stroke-dasharray="3 2"/><circle cx="825" cy="1703" r="6" fill="#fff" stroke="#231815" stroke-width="2.5"/><circle cx="858" cy="1703" r="6" fill="#fff" stroke="#231815" stroke-width="2.5"/>
<text class="k" x="881" y="1699" style="font-size:15px">隧道(閘外區域)</text><text class="f" x="881" y="1712.5" style="font-size:11px">Subway (Unpaid area)</text>
<path d="M833,1745H844" stroke="#231815" stroke-width="2.5"/><rect x="820" y="1736" width="13" height="21" rx="6.5" fill="#fff" stroke="#231815" stroke-width="2.5"/><rect x="844" y="1738.5" width="20" height="13.5" rx="6.7" fill="#fff" stroke="#231815" stroke-width="2.5"/>
<text class="k" x="881" y="1742" style="font-size:14.7px">隧道(已付車費區域)</text><text class="f" x="881" y="1756" style="font-size:11px">Subway (Paid area)</text>
<text class="a" x="859" y="1798" font-size="26">*</text>
<text class="k" x="881" y="1783" style="font-size:14.4px">只限賽馬日</text><text class="f" x="881" y="1797" style="font-size:11px">Racing days only</text>
</g>
</svg>
